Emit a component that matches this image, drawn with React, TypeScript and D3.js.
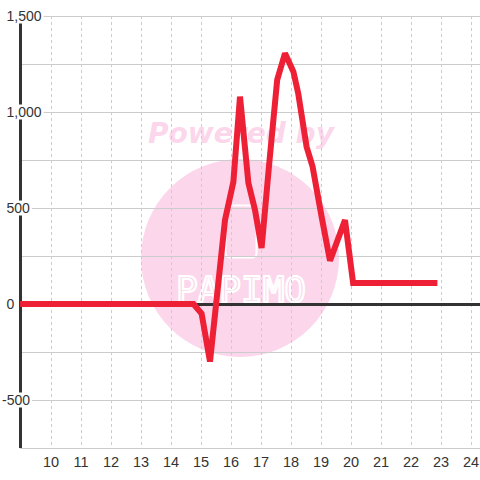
import React from "react";
import * as d3 from "d3";

const xs = [8.97, 14.75, 15.02, 15.3, 15.8, 16.08, 16.3, 16.58, 16.8, 17.02, 17.27, 17.54, 17.8, 18.08, 18.24, 18.52, 18.72, 19.02, 19.3, 19.8, 20.07, 22.88];
const ys = [0, 0, -50, -300, 437, 637, 1080, 630, 490, 292, 724, 1167, 1306, 1210, 1097, 819, 715, 455, 225, 437, 110, 110];
const xTicks = [10, 11, 12, 13, 14, 15, 16, 17, 18, 19, 20, 21, 22, 23, 24];
const yLabelTicks = [1500, 1000, 500, 0, -500];
const yGridTicks = [1500, 1250, 1000, 750, 500, 250, -250, -500, -750];

const W = 480, H = 480;
const L = 20, R = 480, T = 16, B = 448;
const FONT = "'Liberation Sans', Arial, sans-serif";

export default function App() {
  const x = d3.scaleLinear().domain([8.967, 24.3]).range([L, R]);
  const y = d3.scaleLinear().domain([-750, 1500]).range([B, T]);
  const pts: [number, number][] = xs.map((v, i) => [v, ys[i]]);
  const line = d3.line<[number, number]>().x(d => x(d[0])).y(d => y(d[1]));
  const fmt = (v: number) => d3.format(",")(v).replace("\u2212", "-");
  const labelW = (v: number) => fmt(v).length * 7.8 - (fmt(v).includes(",") ? 3.9 : 0) - (v < 0 ? 3.1 : 0);

  return (
    <svg width={W} height={H} style={{ position: "absolute", left: 0, top: 0, background: "#fff" }}>
      <rect x={0} y={0} width={W} height={H} fill="#fff" />
      {/* watermark */}
      <circle cx={240} cy={258} r={99} fill="#FCD6EB" />
      <text x={241} y={143} textAnchor="middle" fontFamily="'DejaVu Sans', sans-serif" fontWeight="bold" fontStyle="italic" fontSize={29} fill="#FCD6EB" textLength={186} lengthAdjust="spacingAndGlyphs">Powered by</text>
      <rect x={225.5} y={205.5} width={31} height={52} rx={4} fill="none" stroke="#fff" strokeWidth={2} />
      <text x={241} y={302} textAnchor="middle" fontFamily="'DejaVu Sans Mono', monospace" fontSize={36} fill="none" stroke="#fff" strokeWidth={2.2} textLength={130} lengthAdjust="spacingAndGlyphs">PAPIMO</text>

      {/* grid */}
      {yGridTicks.map(t => (
        <line key={"g" + t} x1={L} x2={R} y1={y(t) + 0.5} y2={y(t) + 0.5} stroke="#ccc" strokeWidth={1} />
      ))}
      {xTicks.map(t => (
        <line key={"v" + t} x1={Math.round(x(t)) + 0.5} x2={Math.round(x(t)) + 0.5} y1={T} y2={B} stroke="#ccc" strokeWidth={1} strokeDasharray="3,3" />
      ))}
      {/* left axis */}
      <line x1={L + 0.5} x2={L + 0.5} y1={T} y2={B} stroke="#333" strokeWidth={3} />
      {/* zero line */}
      <line x1={L} x2={R} y1={y(0) + 0.5} y2={y(0) + 0.5} stroke="#333" strokeWidth={3} />

      {/* y labels */}
      {yLabelTicks.map(t => {
        const x0 = t < 0 ? 2 : 6.5;
        const w = labelW(t);
        return (
          <g key={"yl" + t}>
            <rect x={x0 - 1} y={y(t) - 7.5} width={w + 3} height={15} fill="#fff" />
            <text x={x0} y={y(t) + 5} fontFamily={FONT} fontSize={14} fill="#333">{fmt(t)}</text>
          </g>
        );
      })}
      {/* x labels */}
      {xTicks.map(t => (
        <text key={"xl" + t} x={x(t)} y={467} textAnchor="middle" fontFamily={FONT} fontSize={14.5} fill="#333">{t}</text>
      ))}

      {/* series */}
      <path d={line(pts) || ""} fill="none" stroke="#EE2036" strokeWidth={6} strokeLinejoin="miter" strokeMiterlimit={2} />
    </svg>
  );
}
